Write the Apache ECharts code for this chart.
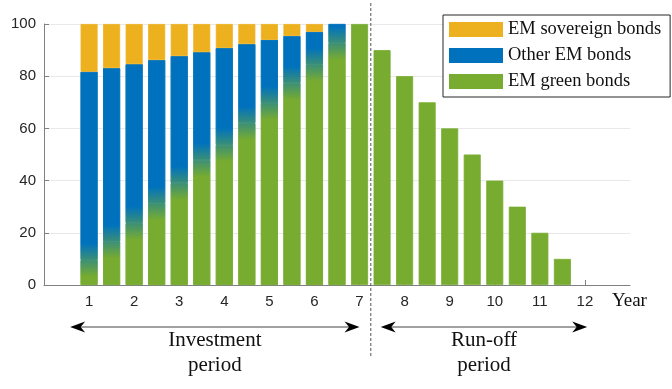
<!DOCTYPE html>
<html>
<head>
<meta charset="utf-8">
<script src="https://cdn.jsdelivr.net/npm/echarts@6/dist/echarts.min.js"></script>
<style>
  html, body { margin: 0; padding: 0; background: #fff; }
  #chart { width: 672px; height: 389px; }
</style>
</head>
<body>
<div id="chart"></div>
<script>
// Portfolio composition (% of fund) by year, half-year steps
const years = [1, 1.5, 2, 2.5, 3, 3.5, 4, 4.5, 5, 5.5, 6, 6.5, 7,
               7.5, 8, 8.5, 9, 9.5, 10, 10.5, 11, 11.5, 12];
const greenBonds = [9.6, 16.6, 23.7, 31.3, 39.0, 47.9, 53.7, 62.0, 69.7, 77.4, 84.4, 92.7, 100,
                    90, 80, 70, 60, 50, 40, 30, 20, 10, 0];
const otherBonds = [72.1, 66.5, 60.9, 54.9, 48.7, 41.3, 37.1, 30.3, 24.2, 18.0, 12.6, 7.3, 0,
                    0, 0, 0, 0, 0, 0, 0, 0, 0, 0];
const sovereignBonds = [18.3, 16.9, 15.4, 13.8, 12.3, 10.8, 9.2, 7.7, 6.1, 4.6, 3.0, 0, 0,
                        0, 0, 0, 0, 0, 0, 0, 0, 0, 0];
const xTicks = [1, 2, 3, 4, 5, 6, 7, 8, 9, 10, 11, 12];
const xRange = [0, 13];
const periodSplit = 7.25;
const periods = [
  { label: 'Investment\nperiod', from: 0.58, to: 7.0 },
  { label: 'Run-off\nperiod', from: 7.47, to: 12.05 }
];

const YELLOW = '#EDB120', BLUE = '#0072BD', GREEN = '#77AC30', MID = '#3B8F76';
const BLEND = 6.4; // half-width (in %) of the green/blue colour transition
const EDGE = 0.8;  // thin same-colour outline closes anti-aliasing seams between stacked segments
const SANS = '"Liberation Sans", Arial, sans-serif';
const SERIF = '"Liberation Serif", "Times New Roman", serif';

// Half-year slots spanning the axis range
const slots = [];
for (let t = xRange[0]; t <= xRange[1] + 1e-9; t += 0.5) slots.push(t);
const slotNames = slots.map(String);
const indexOfYear = y => years.indexOf(y);

function grad(stops) {
  return { type: 'linear', x: 0, y: 0, x2: 0, y2: 1, colorStops: stops };
}
function paint(fill) {
  return { color: fill, borderColor: fill, borderWidth: EDGE };
}

const greenData = slots.map(t => {
  const i = indexOfYear(t);
  if (i < 0 || greenBonds[i] === 0) return '-';
  const g = greenBonds[i], b = otherBonds[i];
  const item = { value: g };
  if (b > 0) {
    item.itemStyle = paint(grad([
      { offset: 0, color: MID },
      { offset: Math.min(1, BLEND / g), color: GREEN },
      { offset: 1, color: GREEN }
    ]));
  }
  return item;
});
const blueData = slots.map(t => {
  const i = indexOfYear(t);
  if (i < 0 || otherBonds[i] === 0) return '-';
  const g = greenBonds[i], b = otherBonds[i];
  const item = { value: b };
  if (g > 0) {
    item.itemStyle = paint(grad([
      { offset: 0, color: BLUE },
      { offset: Math.max(0, 1 - BLEND / b), color: BLUE },
      { offset: 1, color: MID }
    ]));
  }
  return item;
});
const yellowData = slots.map(t => {
  const i = indexOfYear(t);
  if (i < 0 || sovereignBonds[i] === 0) return '-';
  return sovereignBonds[i];
});

const isTick = (idx) => xTicks.indexOf(slots[idx]) >= 0;

const chart = echarts.init(document.getElementById('chart'), null, { renderer: 'canvas' });

chart.setOption({
  animation: false,
  backgroundColor: '#fff',
  grid: { left: 44, right: 42, top: 24, bottom: 104, containLabel: false },
  legend: {
    orient: 'vertical',
    left: 443,
    top: 15,
    itemWidth: 54,
    itemHeight: 15,
    itemGap: 7,
    padding: [5, 9, 6, 6],
    borderColor: '#262626',
    borderWidth: 1,
    backgroundColor: '#fff',
    icon: 'rect',
    textStyle: { fontFamily: SERIF, fontSize: 18.5, color: '#111', lineHeight: 15 },
    data: [
      { name: 'EM sovereign bonds', itemStyle: { color: YELLOW, borderWidth: 0 } },
      { name: 'Other EM bonds', itemStyle: { color: BLUE, borderWidth: 0 } },
      { name: 'EM green bonds', itemStyle: { color: GREEN, borderWidth: 0 } }
    ]
  },
  xAxis: {
    type: 'category',
    data: slotNames,
    boundaryGap: false,
    axisLine: { show: true, lineStyle: { color: '#808080', width: 1 } },
    axisTick: { show: true, inside: true, length: 5, interval: isTick, lineStyle: { color: '#808080' } },
    axisLabel: { interval: isTick, color: '#262626', fontFamily: SANS, fontSize: 15, margin: 9 },
    splitLine: { show: false }
  },
  yAxis: {
    type: 'value',
    min: 0,
    max: 100,
    interval: 20,
    axisLine: { show: true, lineStyle: { color: '#808080', width: 1 } },
    axisTick: { show: true, inside: true, length: 5, lineStyle: { color: '#808080' } },
    axisLabel: { color: '#262626', fontFamily: SANS, fontSize: 15, margin: 8 },
    splitLine: { show: true, lineStyle: { color: '#e8e8e8', width: 1 } }
  },
  series: [
    { name: 'EM green bonds', type: 'bar', stack: 'fund', barWidth: 17,
      itemStyle: paint(GREEN), data: greenData },
    { name: 'Other EM bonds', type: 'bar', stack: 'fund', barWidth: 17,
      itemStyle: paint(BLUE), data: blueData },
    { name: 'EM sovereign bonds', type: 'bar', stack: 'fund', barWidth: 17,
      itemStyle: paint(YELLOW), data: yellowData }
  ]
});

// Annotations: period divider, period arrows and labels, axis name
const p0 = chart.convertToPixel({ gridIndex: 0 }, [0, 0]);
const p1 = chart.convertToPixel({ gridIndex: 0 }, [2, 0]); // slot index 2 = year 1
const xPx = year => p0[0] + (p1[0] - p0[0]) * (year - xRange[0]);
const axisY = p0[1];
const graphics = [];
graphics.push({
  type: 'line', silent: true, z: 10,
  shape: { x1: xPx(periodSplit), y1: 3, x2: xPx(periodSplit), y2: 358 },
  style: { stroke: '#555', lineWidth: 1, lineDash: [3, 2] }
});
const arrowY = 327;
periods.forEach(p => {
  const x1 = xPx(p.from);
  const x2 = xPx(p.to);
  graphics.push({
    type: 'line', silent: true,
    shape: { x1: x1 + 8, y1: arrowY, x2: x2 - 8, y2: arrowY },
    style: { stroke: '#444', lineWidth: 1.2 }
  });
  graphics.push({
    type: 'polygon', silent: true,
    shape: { points: [[x1, arrowY], [x1 + 15, arrowY - 5.5], [x1 + 10.5, arrowY], [x1 + 15, arrowY + 5.5]] },
    style: { fill: '#000' }
  });
  graphics.push({
    type: 'polygon', silent: true,
    shape: { points: [[x2, arrowY], [x2 - 15, arrowY - 5.5], [x2 - 10.5, arrowY], [x2 - 15, arrowY + 5.5]] },
    style: { fill: '#000' }
  });
  graphics.push({
    type: 'text', silent: true,
    x: (x1 + x2) / 2, y: 353,
    style: {
      text: p.label, fill: '#111', font: '21px ' + SERIF,
      align: 'center', verticalAlign: 'middle', lineHeight: 25
    }
  });
});
graphics.push({
  type: 'text', silent: true,
  x: xPx(12) + 27, y: axisY + 16,
  style: { text: 'Year', fill: '#111', font: '19px ' + SERIF, align: 'left', verticalAlign: 'middle' }
});
chart.setOption({ graphic: graphics });
</script>
</body>
</html>
